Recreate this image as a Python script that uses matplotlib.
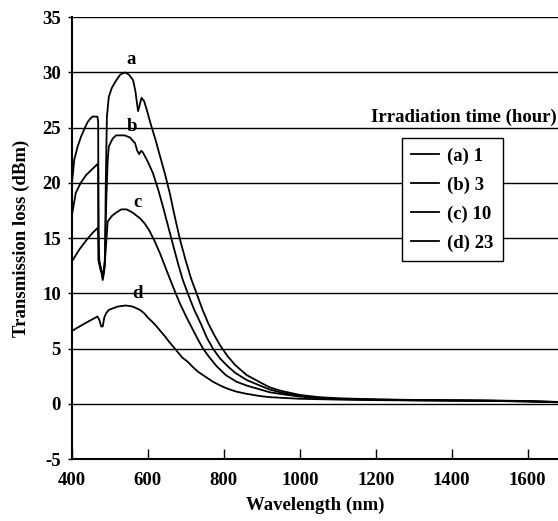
import numpy as np
import matplotlib
matplotlib.use('Agg')
import matplotlib.pyplot as plt

plt.rcParams['font.family'] = ['Liberation Serif', 'DejaVu Serif']
plt.rcParams['font.weight'] = 'bold'
plt.rcParams['axes.unicode_minus'] = False

# curve (a) 1 hour
wl_a = [400, 406, 415, 424, 433, 441, 448, 454, 460, 467, 469, 470, 476, 482, 487, 489, 492, 497,
        505, 515, 527, 539, 550, 561, 567, 574, 578, 583, 590, 598, 605, 620, 632, 645, 658, 671,
        685, 700, 714, 728, 744, 760, 775, 790, 810, 830, 860, 895, 920, 947, 1000, 1050, 1100,
        1200, 1300, 1400, 1500, 1600, 1700]
loss_a = [20.0, 22.1, 23.3, 24.2, 24.9, 25.5, 25.8, 26.0, 26.0, 26.0, 25.5, 13.0, 12.0, 11.8, 13.0, 20.0, 26.0, 27.8,
          28.6, 29.2, 29.8, 30.0, 29.8, 29.3, 28.3, 26.5, 27.0, 27.7, 27.4, 26.5, 25.6, 23.9, 22.4, 20.8, 19.0, 16.9,
          14.8, 12.9, 11.3, 10.0, 8.5, 7.2, 6.2, 5.3, 4.3, 3.5, 2.6, 1.95, 1.5, 1.2, 0.8, 0.6, 0.5,
          0.4, 0.35, 0.32, 0.3, 0.25, 0.15]

# curve (b) 3 hours
wl_b = [400, 410, 423, 437, 455, 467, 469, 470, 476, 481, 486, 490, 494, 497, 507, 516, 539, 553,
        566, 572, 577, 582, 586, 600, 613, 627, 640, 653, 666, 680, 692, 705, 722, 740, 755, 771,
        790, 810, 830, 860, 895, 920, 947, 1000, 1050, 1100, 1200, 1300, 1400, 1500, 1600, 1700]
loss_b = [17.1, 19.1, 20.0, 20.7, 21.3, 21.7, 21.3, 13.0, 12.2, 11.5, 12.5, 18.0, 22.0, 23.3, 24.0, 24.3, 24.3, 24.1,
          23.6, 22.9, 22.6, 22.9, 22.8, 21.9, 20.9, 19.4, 17.8, 16.1, 14.4, 12.6, 11.2, 10.0, 8.5, 7.2, 6.0, 5.0,
          4.1, 3.4, 2.8, 2.15, 1.65, 1.3, 1.05, 0.7, 0.55, 0.45, 0.38, 0.33, 0.3, 0.28, 0.23, 0.14]

# curve (c) 10 hours
wl_c = [400, 420, 440, 455, 467, 469, 472, 476, 481, 485, 489, 494, 505, 516, 530, 544, 560, 579,
        592, 605, 618, 632, 650, 666, 684, 702, 720, 732, 745, 762, 781, 805, 833, 860, 895, 920,
        947, 1000, 1050, 1100, 1200, 1300, 1400, 1500, 1600, 1700]
loss_c = [12.9, 14.0, 14.9, 15.5, 15.9, 15.5, 13.0, 12.3, 11.2, 12.0, 14.0, 16.5, 17.0, 17.3, 17.6, 17.6, 17.3, 16.8,
          16.3, 15.6, 14.7, 13.6, 12.0, 10.6, 9.1, 7.8, 6.6, 5.8, 5.0, 4.2, 3.4, 2.6, 2.0, 1.65, 1.3, 1.05,
          0.9, 0.65, 0.5, 0.42, 0.36, 0.32, 0.3, 0.27, 0.22, 0.13]

# curve (d) 23 hours
wl_d = [400, 430, 467, 472, 477, 481, 485, 490, 497, 520, 542, 560, 579, 590, 600, 612, 623, 635,
        645, 656, 666, 678, 690, 705, 719, 732, 745, 758, 771, 785, 800, 815, 833, 860, 895, 920,
        947, 1000, 1100, 1200, 1300, 1400, 1500, 1600, 1700]
loss_d = [6.6, 7.2, 7.9, 7.6, 7.0, 7.0, 7.8, 8.2, 8.5, 8.8, 8.9, 8.8, 8.5, 8.2, 7.8, 7.4, 7.0, 6.5,
          6.1, 5.6, 5.2, 4.7, 4.2, 3.8, 3.3, 2.9, 2.6, 2.3, 2.0, 1.75, 1.5, 1.3, 1.1, 0.9, 0.7, 0.6,
          0.55, 0.45, 0.38, 0.33, 0.3, 0.28, 0.26, 0.2, 0.12]

curves = [(wl_a, loss_a), (wl_b, loss_b), (wl_c, loss_c), (wl_d, loss_d)]
legend_labels = ['(a) 1', '(b) 3', '(c) 10', '(d) 23']
curve_tags = ['a', 'b', 'c', 'd']
tag_pos = [(555, 31.2), (557, 25.1), (573, 18.2), (572, 10.0)]

fig = plt.figure(figsize=(5.58, 5.21), dpi=100)
ax = fig.add_axes([0.129, 0.119, 0.871, 0.848])

for (wl, loss), lab in zip(curves, legend_labels):
    ax.plot(wl, loss, color='black', linewidth=1.3, label=lab)

for tag, (tx, ty) in zip(curve_tags, tag_pos):
    ax.text(tx, ty, tag, ha='center', va='center', fontsize=13.5, fontweight='bold')

ax.set_xlim(400, 1680)
ax.set_ylim(-5, 35)
ax.set_xticks([400, 600, 800, 1000, 1200, 1400, 1600])
ax.set_yticks(np.arange(-5, 36, 5))
ax.yaxis.grid(True, color='black', linewidth=1.0)
ax.set_axisbelow(True)

ax.spines['top'].set_visible(False)
ax.spines['right'].set_visible(False)
ax.spines['left'].set_linewidth(1.5)
ax.spines['bottom'].set_linewidth(1.5)
ax.tick_params(axis='x', direction='in', length=7, width=1, labelsize=13.5, pad=9)
ax.tick_params(axis='y', direction='out', length=3, width=1, labelsize=13.5, pad=5)
for t in ax.get_xticklabels() + ax.get_yticklabels():
    t.set_fontweight('bold')

ax.set_xlabel('Wavelength (nm)', fontsize=13.5, fontweight='bold', labelpad=6)
ax.set_ylabel('Transmission loss (dBm)', fontsize=13.5, fontweight='bold', labelpad=9)

fig.text(371 / 558, 1 - 117 / 521, 'Irradiation time (hour)', ha='left', va='center',
         fontsize=13.5, fontweight='bold')

# legend sits below the title text, gridlines hidden behind its white box
leg = ax.legend(loc='upper left', bbox_to_anchor=(0.679, 0.726), borderaxespad=0,
                fancybox=False, framealpha=1, edgecolor='black', handlelength=1.5,
                handletextpad=0.4, labelspacing=0.62, borderpad=0.5,
                prop={'size': 13.5, 'weight': 'bold'})
leg.get_frame().set_linewidth(1.0)

plt.savefig('out.png', dpi=100)
